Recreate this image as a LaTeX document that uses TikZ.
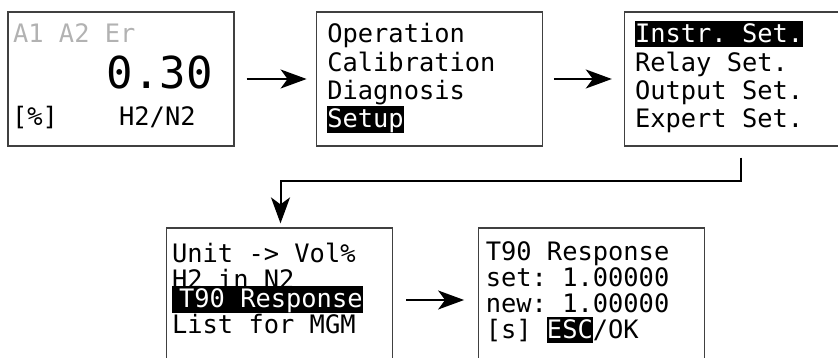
\documentclass[tikz,border=0pt]{standalone}
\usepackage{fontspec}
\newfontfamily\lcdfont{DejaVu Sans Mono}
\usetikzlibrary{arrows.meta, positioning, calc}

\setlength{\fboxsep}{0pt}
\newcommand{\inv}[1]{\colorbox{black}{\vrule height 22pt depth 4.5pt width 0pt\textcolor{white}{#1}}}
\newcommand{\lcdsize}[2]{\lcdfont\fontsize{#1}{#2}\selectfont\spaceskip=0.6021em\xspaceskip=0.6021em\relax}

\begin{document}
\begin{tikzpicture}[
  x=1pt, y=-1pt,
  screen/.style = {draw=black!75, line width=1.2pt, minimum width=226pt, minimum height=134pt, inner sep=0pt},
  lcd/.style = {anchor=base west, inner sep=0pt, text width=215pt, font=\lcdsize{25.4}{#1},
    execute at begin node={\spaceskip=0.6021em\xspaceskip=0.6021em\relax}},
  lcd/.default = 28.3,
  arrow/.style = {line width=2pt, -{Stealth[length=26pt, width=19pt, inset=7pt]}},
  node distance=81pt
]
\useasboundingbox (0,0) rectangle (838,358);

% ======================================================
% Main display
% ======================================================
\node[screen] (home) at (121,79) {};
\node[lcd, text=black!30] (home top) at ($(home.north west)+(5.5,31)$) {A1 A2 Er};
\node[anchor=base east, inner sep=0pt, font=\lcdsize{44}{48}] (home value) at ($(home.north west)+(205.5,77)$) {0.30};
\node[lcd] (home unit) at ($(home.north west)+(4.5,114.5)$) {[\%]\ \ \ \ H2/N2};

% ======================================================
% Main menu (to the right)
% ======================================================
\node[screen, right=of home] (menu) {};
\node[lcd] (menu text) at ($(menu.north west)+(11.5,31.5)$) {Operation\\Calibration\\Diagnosis\\\inv{Setup}};

\draw[arrow, shorten <=12pt, shorten >=9pt] (home.east) -- (menu.west);

% ======================================================
% Setup menu (to the right)
% ======================================================
\node[screen, right=of menu] (setup) {};
\node[lcd] (setup text) at ($(setup.north west)+(11,31.5)$) {\inv{Instr. Set.}\\Relay Set.\\Output Set.\\Expert Set.};

\draw[arrow, shorten <=11pt, shorten >=12pt] (menu.east) -- (setup.west);

% ======================================================
% Instrument settings (second row)
% ======================================================
\node[screen] (instr) at (279.5,295) {};
\node[lcd=26] (instr text) at ($(instr.north west)+(6,35.5)$) {Unit -> Vol\%\\H2 in N2\\\kern-7pt\inv{\kern7pt T90 Response}\\List for MGM};

% elbow from setup menu down to instrument settings
\draw[arrow, shorten >=4pt] ([xshift=4pt, yshift=-11pt]setup.south) -- ++(0,23) -| ([xshift=1pt]instr.north);

% ======================================================
% T90 response entry (to the right)
% ======================================================
\node[screen, right=85pt of instr] (t90) {};
\node[lcd=26] (t90 text) at ($(t90.north west)+(7.5,33.5)$) {T90 Response\\set: 1.00000\\new: 1.00000\\{}[s] \inv{ESC}/OK};

\draw[arrow] ([xshift=13pt, yshift=-5pt]instr.east) -- ([xshift=-14pt, yshift=-5pt]t90.west);
\end{tikzpicture}
\end{document}
